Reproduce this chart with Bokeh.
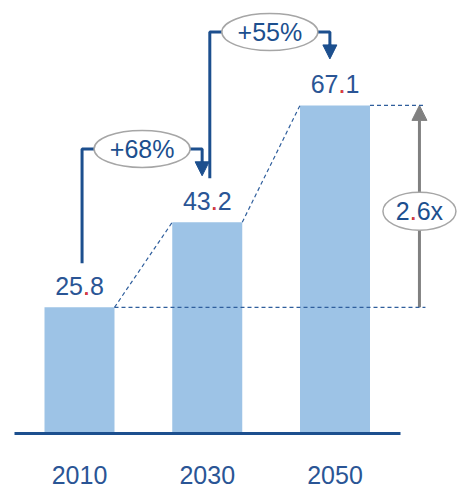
from bokeh.plotting import figure
from bokeh.models import Range1d, LinearAxis, FixedTicker, Arrow, NormalHead
from bokeh.core.properties import value
from bokeh.embed import file_html
from bokeh.resources import INLINE

# ---- data ----
years = ["2010", "2030", "2050"]
values = [25.8, 43.2, 67.1]
growth_labels = ["+68%", "+55%"]
multiple_label = "2.6x"

# ---- style ----
FONT = "Liberation Sans"
BAR = "#9dc3e6"
DARK = "#1c4f8e"
TEXT = "#2a5595"
GRAY = "#808080"
ELL_LINE = "#a6a6a6"
RED = "#ea3a3a"

PX_X = 127.75
PX_Y = 4.89
W, H = 462, 491
FH = 433

xs = list(range(len(values)))
bw = 0.548
x0 = -79 / PX_X

p = figure(width=W, height=H,
           x_range=Range1d(x0, x0 + W / PX_X), y_range=Range1d(0, FH / PX_Y),
           output_backend="svg", toolbar_location=None,
           x_axis_location=None, y_axis_location=None,
           min_border_left=0, min_border_right=0, min_border_top=0,
           min_border_bottom=H - FH)
p.outline_line_color = None
p.grid.visible = False
p.background_fill_color = "white"

# bars
p.vbar(x=xs, top=values, width=bw, bottom=0, fill_color=BAR, line_color=None)

# axis (baseline + year labels)
ax = LinearAxis(ticker=FixedTicker(ticks=xs),
                major_label_overrides={i: y for i, y in enumerate(years)},
                bounds=(-0.509, 2.513),
                axis_line_color=DARK, axis_line_width=3,
                major_tick_line_color=None, minor_tick_line_color=None,
                major_label_text_font=FONT, major_label_text_font_size="25px",
                major_label_text_color=TEXT, major_label_standoff=26)
p.add_layout(ax, "below")

# dashed guide lines
x_end = 2.708
p.segment(x0=[xs[0] + bw / 2, xs[-1] + bw / 2], y0=[values[0], values[-1]],
          x1=[x_end, x_end], y1=[values[0], values[-1]],
          line_color="#2f5e9c", line_width=1.2, line_dash="4 3")
p.segment(x0=[xs[i] + bw / 2 for i in range(len(xs) - 1)],
          y0=values[:-1],
          x1=[xs[i + 1] - bw / 2 for i in range(len(xs) - 1)],
          y1=values[1:],
          line_color="#2f5e9c", line_width=1.2, line_dash="4 3")

# value labels
label_y = [v + 4.3 for v in values]
p.text(x=xs, y=label_y, text=[f"{v:.1f}" for v in values],
       text_align="center", text_baseline="middle",
       text_font=value(FONT), text_font_size="25px", text_color=TEXT)
p.text(x=xs, y=label_y, text=["."] * len(xs), x_offset=7,
       text_align="center", text_baseline="middle",
       text_font=value(FONT), text_font_size="25px", text_color=RED)

# gray multiple arrow (drawn beneath the ellipse)
gx = 2.661
p.add_layout(Arrow(x_start=gx, y_start=values[0], x_end=gx, y_end=values[-1],
                   line_color=GRAY, line_width=3, level="underlay",
                   end=NormalHead(size=15, fill_color=GRAY, line_color=GRAY, line_width=1)))
my = (values[0] + values[-1]) / 2 - 1
p.ellipse(x=[gx], y=[my], width=73, height=38, width_units="screen", height_units="screen",
          fill_color="white", line_color=ELL_LINE, line_width=1.5)
p.text(x=[gx], y=[my], text=[multiple_label], text_align="center", text_baseline="middle",
       text_font=value(FONT), text_font_size="25px", text_color=DARK)
p.text(x=[gx], y=[my], text=["."], x_offset=-6.2, text_align="center", text_baseline="middle",
       text_font=value(FONT), text_font_size="25px", text_color=RED)

# growth brackets
for i in range(len(values) - 1):
    sx = xs[i] + 0.02
    rx = xs[i + 1] - 0.04
    top = values[i + 1] + 15
    tip = values[i + 1] + 9.5
    p.line(x=[sx, sx, rx, rx], y=[values[i] + 9, top, top, tip + 2.6],
           line_color=DARK, line_width=3)
    p.add_layout(Arrow(x_start=rx, y_start=tip + 3, x_end=rx, y_end=tip,
                       line_color=DARK, line_width=3,
                       end=NormalHead(size=14, fill_color=DARK, line_color=DARK, line_width=1)))
    cx = (sx + rx) / 2
    p.ellipse(x=[cx], y=[top], width=96, height=37, width_units="screen", height_units="screen",
              fill_color="white", line_color=ELL_LINE, line_width=1.5)
    p.text(x=[cx], y=[top], text=[growth_labels[i]], text_align="center", text_baseline="middle",
           text_font=value(FONT), text_font_size="25px", text_color=DARK)

open("out.html", "w").write(file_html(p, INLINE))
